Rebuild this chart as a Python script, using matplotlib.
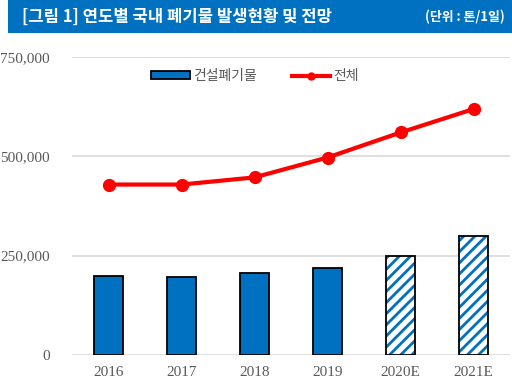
import matplotlib.pyplot as plt
from matplotlib.patches import Rectangle
from matplotlib.lines import Line2D
import numpy as np

years = ["2016", "2017", "2018", "2019", "2020E", "2021E"]
construction = [200000, 196000, 207000, 220000, 250000, 300000]
total = [429000, 429000, 447000, 497000, 560000, 619000]
is_estimate = [False, False, False, False, True, True]

blue = "#0070C0"
red = "#FF0000"
gray = "#595959"

plt.rcParams['hatch.linewidth'] = 2.0

fig = plt.figure(figsize=(5.12, 3.83), dpi=100)

# 상단 제목 배너
fig.patches.append(Rectangle((8 / 512, 1 - 33 / 383), 1 - 8 / 512, 33 / 383,
                             transform=fig.transFigure, facecolor=blue,
                             edgecolor="none", zorder=0))
fig.text(22 / 512, 1 - 17 / 383, "[그림 1] 연도별 국내 폐기물 발생현황 및 전망",
         color="white", fontsize=12, fontweight="bold",
         family=["Noto Sans CJK KR", "DejaVu Sans"], va="center", ha="left")
fig.text(505 / 512, 1 - 17 / 383, "(단위 : 톤/1일)", color="white", fontsize=9.3,
         fontweight="bold", family=["Noto Sans CJK KR", "DejaVu Sans"],
         va="center", ha="right")

ax = fig.add_axes([72 / 512, 1 - 355 / 383, 438 / 512, 298 / 383])
x = np.arange(len(years))
w = 0.4

for xi, v, est in zip(x, construction, is_estimate):
    if est:
        ax.bar(xi, v, width=w, color="white", edgecolor=blue, hatch="///",
               linewidth=0, zorder=3)
        ax.bar(xi, v, width=w, fill=False, edgecolor="black", linewidth=1.3,
               zorder=4)
    else:
        ax.bar(xi, v, width=w, color=blue, edgecolor="black", linewidth=1.3,
               zorder=3)

ax.plot(x, total, color=red, linewidth=3, marker="o", markersize=8.5, zorder=5)

ax.set_xlim(-0.5, len(years) - 0.5)
ax.set_ylim(0, 750000)
ax.set_yticks([0, 250000, 500000, 750000])
ax.set_yticklabels(["0", "250,000", "500,000", "750,000"])
ax.set_xticks(x)
ax.set_xticklabels(years)
for lab in ax.get_xticklabels() + ax.get_yticklabels():
    lab.set_family("Liberation Serif")
    lab.set_fontsize(11)
    lab.set_color(gray)
ax.tick_params(length=0)
ax.tick_params(axis="y", pad=16)
ax.tick_params(axis="x", pad=8)
ax.grid(axis="y", color="#D9D9D9", linewidth=1.2, zorder=0)
ax.set_axisbelow(True)
for s in ax.spines.values():
    s.set_visible(False)

handles = [Rectangle((0, 0), 1, 1, facecolor=blue, edgecolor="black", linewidth=1.3),
           Line2D([], [], color=red, linewidth=3, marker="o", markersize=5)]
leg = ax.legend(handles, ["건설폐기물", "전체"], ncol=2, loc="center",
                bbox_to_anchor=(0.418, 0.936), frameon=False,
                prop={"family": ["Noto Sans CJK KR", "DejaVu Sans"], "size": 10},
                handlelength=2.8, handleheight=0.45, columnspacing=2.5,
                handletextpad=0.2)
for t in leg.get_texts():
    t.set_color(gray)

fig.savefig("out.png", dpi=100)
